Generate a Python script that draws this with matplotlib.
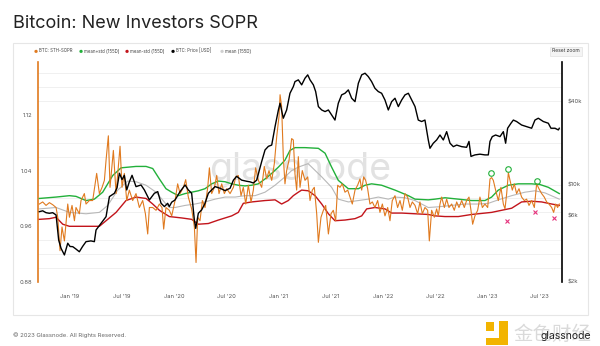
import matplotlib
matplotlib.use("Agg")
import matplotlib.pyplot as plt
from matplotlib.patches import Rectangle
from matplotlib.ticker import NullLocator, FixedLocator

plt.rcParams['font.family'] = ['Inter', 'DejaVu Sans']

# --- data (time as decimal year) ---
sopr_t = [2018.706, 2018.738, 2018.770, 2018.802, 2018.834, 2018.866, 2018.882, 2018.904, 2018.923, 2018.946,
          2018.978, 2018.994, 2019.019, 2019.042, 2019.057, 2019.089, 2019.105, 2019.137, 2019.153, 2019.185,
          2019.217, 2019.255, 2019.281, 2019.307, 2019.329, 2019.345, 2019.367, 2019.383, 2019.415, 2019.441,
          2019.479, 2019.498, 2019.520, 2019.543, 2019.568, 2019.600, 2019.632, 2019.664, 2019.696, 2019.722,
          2019.744, 2019.760, 2019.792, 2019.824, 2019.856, 2019.881, 2019.897, 2019.919, 2019.951,
          2019.974, 2020.006, 2020.031, 2020.054, 2020.086, 2020.108, 2020.133, 2020.165, 2020.191, 2020.207,
          2020.223, 2020.245, 2020.268, 2020.293, 2020.319, 2020.335, 2020.357, 2020.383, 2020.405, 2020.427,
          2020.453, 2020.478, 2020.501, 2020.533, 2020.565, 2020.587, 2020.612, 2020.638, 2020.660, 2020.683,
          2020.708, 2020.734, 2020.756, 2020.778, 2020.804, 2020.836, 2020.861, 2020.884, 2020.906, 2020.932,
          2020.957, 2020.980, 2021.002, 2021.012, 2021.027, 2021.043, 2021.059, 2021.075, 2021.098, 2021.123,
          2021.139, 2021.155, 2021.171, 2021.187,
          2021.203, 2021.225, 2021.251, 2021.277, 2021.299, 2021.321, 2021.340, 2021.363, 2021.379, 2021.404,
          2021.427, 2021.449, 2021.475, 2021.500, 2021.522, 2021.545, 2021.564, 2021.586, 2021.608, 2021.634,
          2021.660, 2021.682, 2021.704, 2021.730, 2021.755, 2021.778, 2021.794, 2021.813, 2021.832, 2021.851,
          2021.873, 2021.896, 2021.921, 2021.947, 2021.969, 2021.992, 2022.017, 2022.043, 2022.065, 2022.087,
          2022.113, 2022.138, 2022.161, 2022.183, 2022.209, 2022.234, 2022.257, 2022.279, 2022.305, 2022.330,
          2022.352, 2022.375, 2022.400, 2022.426, 2022.442,
          2022.464, 2022.490, 2022.512, 2022.528, 2022.544, 2022.560, 2022.586, 2022.608, 2022.630, 2022.656,
          2022.681, 2022.704, 2022.726, 2022.752, 2022.777, 2022.799, 2022.822, 2022.841, 2022.857, 2022.879,
          2022.905, 2022.927, 2022.950, 2022.975, 2023.001, 2023.023, 2023.039, 2023.055, 2023.077, 2023.103,
          2023.128, 2023.151, 2023.167, 2023.183, 2023.199, 2023.215, 2023.237, 2023.256, 2023.278, 2023.301,
          2023.326, 2023.352, 2023.374, 2023.397, 2023.422, 2023.448, 2023.470, 2023.492, 2023.518, 2023.543,
          2023.566, 2023.588, 2023.614, 2023.633, 2023.652, 2023.671, 2023.687]
sopr = [0.992, 0.995, 0.990, 0.994, 0.991, 0.987, 0.973, 0.925, 0.959, 0.939,
        0.992, 0.973, 0.990, 0.968, 0.987, 0.978, 0.997, 1.007, 0.992, 0.997,
        0.997, 1.036, 1.007, 1.016, 1.026, 1.055, 1.090, 1.016, 1.069, 1.007,
        1.075, 1.016, 1.036, 0.997, 1.012, 0.997, 1.007, 0.987, 0.997, 0.978,
        0.949, 0.987, 0.987, 0.983, 0.992, 0.987, 0.956, 0.987, 0.983,
        0.975, 0.997, 1.021, 1.007, 1.016, 1.027, 1.002, 0.985, 0.959, 0.908,
        0.973, 0.968, 0.997, 0.987, 1.016, 1.044, 1.007, 1.016, 1.033, 1.007,
        1.021, 1.007, 1.014, 1.007, 1.016, 1.031, 1.033, 1.004, 1.016, 0.992,
        1.019, 0.995, 1.012, 1.044, 1.026, 1.016, 1.046, 1.028, 1.040, 1.026,
        1.050, 1.089, 1.118, 1.149, 1.132, 1.060, 1.021, 1.040, 1.055, 1.086,
        1.084, 1.035, 1.012, 1.060,
        1.016, 1.040, 1.026, 1.031, 0.997, 1.012, 1.016, 0.978, 0.937, 0.973,
        0.983, 0.990, 0.949, 0.978, 0.983, 0.968, 1.019, 1.016, 1.021, 1.009,
        1.012, 1.002, 0.992, 1.012, 1.019, 1.028, 1.012, 1.031, 1.026, 1.014,
        0.992, 0.995, 0.987, 0.997, 0.980, 0.992, 0.975, 0.987, 0.968, 0.997,
        1.004, 0.987, 0.997, 0.983, 1.007, 1.002, 0.987, 0.995, 0.990, 0.978,
        0.995, 0.978, 0.987, 0.983, 0.939,
        0.983, 0.973, 0.985, 0.975, 0.992, 1.002, 0.987, 0.999, 0.987, 0.992,
        0.983, 0.995, 0.987, 0.997, 0.987, 0.997, 1.002, 0.983, 0.963, 0.975,
        0.983, 1.002, 0.987, 0.992, 0.987, 1.028, 1.030, 1.026, 1.012, 0.997,
        1.016, 0.992, 0.985, 1.007, 1.037, 1.026, 1.012, 1.021, 1.007, 1.014,
        1.002, 0.997, 0.999, 0.990, 0.997, 0.987, 1.021, 1.014, 1.007, 1.002,
        0.995, 0.992, 0.987, 0.980, 0.992, 0.987, 0.992]

upper_t = [2018.706, 2018.866, 2018.994, 2019.057, 2019.153, 2019.233, 2019.313, 2019.409, 2019.489, 2019.632,
           2019.728, 2019.792, 2019.856, 2019.919, 2019.974, 2020.038, 2020.102, 2020.165, 2020.229, 2020.293,
           2020.357, 2020.421, 2020.485, 2020.549, 2020.612, 2020.676, 2020.740, 2020.804, 2020.868, 2020.932,
           2020.996, 2021.059, 2021.107, 2021.155, 2021.251, 2021.379, 2021.443, 2021.506, 2021.570, 2021.666,
           2021.762, 2021.826, 2021.889, 2021.985, 2022.113, 2022.241, 2022.305, 2022.432, 2022.496, 2022.592,
           2022.720, 2022.847, 2022.975, 2023.039, 2023.103, 2023.199, 2023.294, 2023.422, 2023.502, 2023.582,
           2023.687]
upper = [1.000, 1.002, 1.004, 1.003, 0.997, 0.999, 1.009, 1.033, 1.044, 1.046,
         1.046, 1.043, 1.028, 1.014, 1.009, 1.004, 1.007, 1.009, 1.011, 1.014,
         1.021, 1.025, 1.024, 1.021, 1.019, 1.018, 1.019, 1.021, 1.028, 1.036,
         1.045, 1.055, 1.069, 1.073, 1.073, 1.072, 1.065, 1.045, 1.026, 1.014,
         1.014, 1.019, 1.021, 1.019, 1.012, 1.004, 0.999, 0.998, 0.999, 1.001,
         0.999, 0.997, 0.997, 1.002, 1.012, 1.019, 1.021, 1.021, 1.020, 1.016,
         1.007]

mean_t = [2018.706, 2018.866, 2018.994, 2019.153, 2019.281, 2019.361, 2019.457, 2019.552, 2019.632, 2019.728,
          2019.824, 2019.919, 2019.951, 2020.006, 2020.102, 2020.197, 2020.293, 2020.389, 2020.485, 2020.581,
          2020.676, 2020.772, 2020.868, 2020.964, 2021.059, 2021.123, 2021.187, 2021.281, 2021.411, 2021.506,
          2021.570, 2021.666, 2021.762, 2021.857, 2021.953, 2022.049, 2022.113, 2022.209, 2022.305, 2022.432,
          2022.528, 2022.656, 2022.784, 2022.911, 2023.007, 2023.103, 2023.231, 2023.358, 2023.454, 2023.550,
          2023.687]
mean = [0.985, 0.987, 0.980, 0.978, 0.980, 0.990, 1.012, 1.025, 1.024, 1.019,
        1.009, 0.992, 0.987, 0.987, 0.990, 0.992, 0.995, 0.999, 1.002, 1.002,
        1.004, 1.004, 1.009, 1.019, 1.031, 1.040, 1.045, 1.050, 1.031, 1.016,
        0.999, 0.995, 0.997, 0.999, 1.002, 0.999, 1.002, 1.001, 0.997, 0.987,
        0.988, 0.990, 0.992, 0.992, 0.993, 0.998, 1.004, 1.009, 1.011, 1.008,
        0.999]

lower_t = [2018.706, 2018.802, 2018.866, 2018.930, 2018.994, 2019.153, 2019.281, 2019.345, 2019.441, 2019.536,
           2019.632, 2019.728, 2019.792, 2019.856, 2019.951, 2020.070, 2020.165, 2020.229, 2020.325, 2020.421,
           2020.549, 2020.612, 2020.660, 2020.740, 2020.868, 2020.964, 2021.027, 2021.091, 2021.139, 2021.187,
           2021.219, 2021.283, 2021.347, 2021.411, 2021.475, 2021.538, 2021.634, 2021.730, 2021.794, 2021.842,
           2021.921, 2022.017, 2022.081, 2022.177, 2022.305, 2022.432, 2022.496, 2022.592, 2022.720, 2022.847,
           2022.975, 2023.039, 2023.135, 2023.231, 2023.326, 2023.422, 2023.518, 2023.614, 2023.687]
lower = [0.970, 0.971, 0.973, 0.963, 0.960, 0.960, 0.960, 0.968, 0.980, 0.997,
         1.002, 1.000, 0.992, 0.983, 0.974, 0.972, 0.970, 0.963, 0.964, 0.969,
         0.975, 0.980, 0.993, 0.995, 0.997, 0.998, 0.992, 0.997, 1.004, 1.009,
         1.012, 1.011, 1.004, 0.992, 0.978, 0.968, 0.969, 0.971, 0.975, 0.985,
         0.987, 0.985, 0.979, 0.979, 0.978, 0.977, 0.975, 0.974, 0.974, 0.977,
         0.979, 0.980, 0.983, 0.986, 0.995, 0.996, 0.995, 0.992, 0.990]

price_t = [2018.706, 2018.738, 2018.770, 2018.802, 2018.834, 2018.866, 2018.891, 2018.914, 2018.946, 2018.978,
           2019.000, 2019.026, 2019.057, 2019.089, 2019.120, 2019.153, 2019.200, 2019.233, 2019.249, 2019.297,
           2019.345, 2019.377, 2019.425, 2019.450, 2019.473, 2019.498, 2019.520, 2019.543, 2019.568, 2019.594,
           2019.632, 2019.680, 2019.712, 2019.760, 2019.808, 2019.840, 2019.872, 2019.904, 2019.935, 2019.951,
           2019.974, 2020.006, 2020.054, 2020.102, 2020.133, 2020.165, 2020.191, 2020.204, 2020.229, 2020.261,
           2020.293, 2020.325, 2020.357, 2020.389, 2020.437, 2020.485, 2020.533, 2020.565, 2020.596, 2020.644,
           2020.692, 2020.724, 2020.756, 2020.788, 2020.836, 2020.868, 2020.900, 2020.932, 2020.964, 2020.996,
           2021.012, 2021.043, 2021.075, 2021.107, 2021.139, 2021.155, 2021.187, 2021.219, 2021.251, 2021.277,
           2021.299, 2021.331, 2021.353, 2021.379, 2021.411, 2021.443, 2021.475, 2021.506, 2021.538, 2021.570,
           2021.602, 2021.634, 2021.666, 2021.698, 2021.730, 2021.762, 2021.794, 2021.826, 2021.857, 2021.889,
           2021.921, 2021.953, 2021.985, 2022.017, 2022.049, 2022.081, 2022.113, 2022.145, 2022.177, 2022.209,
           2022.241, 2022.273, 2022.305, 2022.336, 2022.368, 2022.400, 2022.432, 2022.448, 2022.458, 2022.480,
           2022.512, 2022.544, 2022.576, 2022.608, 2022.640, 2022.672, 2022.704, 2022.752, 2022.799, 2022.822,
           2022.841, 2022.879, 2022.927, 2022.975, 2023.007, 2023.023, 2023.045, 2023.077, 2023.119, 2023.151,
           2023.173, 2023.192, 2023.224, 2023.247, 2023.278, 2023.326, 2023.374, 2023.422, 2023.454, 2023.486,
           2023.534, 2023.582, 2023.607, 2023.646, 2023.678, 2023.687]
price = [6410, 6500, 6300, 6240, 6300, 6070, 4010, 3490, 3130, 3800,
         3600, 3590, 3450, 3300, 3600, 3900, 3950, 3900, 4730, 5290,
         5900, 8220, 8690, 9500, 12100, 10900, 11700, 9180, 10500, 11700,
         9700, 9970, 9180, 7780, 8690, 8930, 7360, 6970, 7360, 6970,
         7500, 7780, 8930, 9970, 9180, 8690, 5580, 4860, 6240, 6600,
         7360, 8690, 9180, 9700, 9440, 9080, 9440, 10800, 11500, 10800,
         10600, 10500, 10300, 10800, 14700, 17800, 18900, 19300, 26200, 34500,
         38600, 30100, 34500, 45500, 50800, 55200, 56800, 52300, 58400, 61700,
         56800, 52300, 46800, 36500, 34500, 33600, 34500, 31800, 29200, 38600,
         44300, 45500, 48100, 41900, 39600, 53700, 61700, 63400, 60000, 55200,
         49400, 46800, 45500, 40700, 34500, 39600, 41900, 36500, 40700, 44300,
         45500, 40700, 36500, 29200, 28500, 29200, 21000, 18300, 18800, 19900,
         21000, 22800, 21000, 24100, 19900, 18800, 19300, 18800, 18600, 20500,
         16000, 16400, 16600, 16400, 16400, 20500, 22200, 22800, 22200, 24100,
         19900, 25500, 27700, 29200, 28500, 26900, 26200, 25500, 29200, 30100,
         28500, 27700, 25500, 25500, 24800, 25500]

peak_t = [2023.030, 2023.198, 2023.473]
peak_v = [1.037, 1.043, 1.025]
dip_t = [2023.190, 2023.450, 2023.640]
dip_v = [0.968, 0.980, 0.972]

xtick_pos = [2019.0, 2019.5, 2020.0, 2020.5, 2021.0, 2021.5, 2022.0, 2022.5, 2023.0, 2023.5]
xtick_labels = ["Jan '19", "Jul '19", "Jan '20", "Jul '20", "Jan '21", "Jul '21",
                "Jan '22", "Jul '22", "Jan '23", "Jul '23"]
left_ticks = [0.88, 0.96, 1.04, 1.12]
right_ticks = [2000, 6000, 10000, 40000]
right_labels = ["$2k", "$6k", "$10k", "$40k"]

legend_labels = ["BTC: STH-SOPR", "mean+std (155D)", "mean-std (155D)", "BTC: Price [USD]", "mean (155D)"]

ORANGE = "#e07a1f"
GREEN = "#22b03a"
RED = "#c2141b"
GRAY = "#b8b8b8"
legend_colors = [ORANGE, GREEN, RED, "black", "#cfcfcf"]


def fx(px):
    return px / 600


def fy(py):
    return 1 - py / 346


fig = plt.figure(figsize=(6, 3.46), dpi=100)
fig.patch.set_facecolor("white")

# outer card frame
fig.patches.append(Rectangle((fx(13), fy(315)), fx(588) - fx(13), fy(43) - fy(315),
                             transform=fig.transFigure, fill=False, ec="#e6e6e6", lw=0.8))

fig.text(fx(13), fy(23), "Bitcoin: New Investors SOPR", fontsize=13, color="#222222",
         ha="left", va="center")

# legend row
leg_x = [36, 81, 127, 173, 222]
for x, lab, c in zip(leg_x, legend_labels, legend_colors):
    fig.text(fx(x), fy(51), "\u25cf", color=c, fontsize=3.2, ha="center", va="center")
    fig.text(fx(x + 3), fy(51), lab, color="#444444", fontsize=3.1, ha="left", va="center")

fig.text(fx(566), fy(51), "Reset zoom", fontsize=3.6, color="#333333", ha="center", va="center",
         bbox=dict(boxstyle="square,pad=0.4", fc="#f4f4f4", ec="#e2e2e2", lw=0.5))

ax = fig.add_axes([fx(38), fy(282), fx(562) - fx(38), fy(62) - fy(282)])
ax2 = ax.twinx()

ax.set_xlim(2018.693, 2023.713)
ax.set_ylim(0.88, 1.196)
ax.yaxis.set_major_locator(FixedLocator(left_ticks))
ax.set_yticklabels([f"{v:.2f}" for v in left_ticks])
ax.yaxis.set_minor_locator(FixedLocator([0.88 + 0.02 * i for i in range(16)]))
ax.grid(which="minor", axis="y", color="#eeeeee", lw=0.6)
ax.set_axisbelow(True)
ax.set_xticks(xtick_pos)
ax.set_xticklabels(xtick_labels)

for s in ["top", "right", "bottom"]:
    ax.spines[s].set_visible(False)
ax.spines["left"].set_color(ORANGE)
ax.spines["left"].set_linewidth(1.2)
ax.tick_params(axis="both", which="both", length=0, labelsize=4.2, labelcolor="#555555")
ax.tick_params(axis="x", pad=9)
ax.tick_params(axis="y", pad=4)

ax.text(0.5, 0.51, "glassnode", transform=ax.transAxes, fontsize=27, color="#e2e2e2",
        ha="center", va="center", zorder=0)

ax.plot(mean_t, mean, color=GRAY, lw=0.8, zorder=2)
ax.plot(lower_t, lower, color=RED, lw=1.0, zorder=3)
ax.plot(sopr_t, sopr, color=ORANGE, lw=0.8, zorder=4)
ax.plot(upper_t, upper, color=GREEN, lw=1.0, zorder=3)
ax.plot(peak_t, peak_v, "o", mfc="none", mec=GREEN, ms=4, mew=0.8, zorder=5)
ax.plot(dip_t, dip_v, "x", color="#e5327c", ms=3.5, mew=0.8, zorder=5)

ax2.plot(price_t, price, color="black", lw=1.0)
ax2.set_yscale("log")
ax2.set_ylim(2000, 76350)
ax2.yaxis.set_major_locator(FixedLocator(right_ticks))
ax2.yaxis.set_minor_locator(NullLocator())
ax2.set_yticklabels(right_labels)
for s in ["top", "left", "bottom"]:
    ax2.spines[s].set_visible(False)
ax2.spines["right"].set_color("black")
ax2.spines["right"].set_linewidth(1.2)
ax2.tick_params(axis="y", length=0, labelsize=4.2, labelcolor="#555555", pad=4)

# footer
fig.text(fx(13), fy(335), "\u00a9 2023 Glassnode. All Rights Reserved.", fontsize=4.3,
         color="#666666", ha="left", va="center")

# bottom-right watermark
logo_c = "#f2b400"
fig.patches.append(Rectangle((fx(486), fy(331)), fx(494) - fx(486), fy(322) - fy(331),
                             transform=fig.transFigure, fc=logo_c, ec="none"))
fig.patches.append(Rectangle((fx(499), fy(345)), fx(508) - fx(499), fy(321) - fy(345),
                             transform=fig.transFigure, fc=logo_c, ec="none"))
fig.patches.append(Rectangle((fx(486), fy(345)), fx(508) - fx(486), fy(338) - fy(345),
                             transform=fig.transFigure, fc=logo_c, ec="none"))
fig.text(fx(552), fy(334), "金色财经", family=["Noto Sans CJK SC", "DejaVu Sans"], fontsize=14,
         color="#dadada", ha="center", va="center")
fig.text(fx(566), fy(336), "glassnode", fontsize=7.5, color="#222222", ha="center", va="center")

fig.savefig("out.png", dpi=100, facecolor="white")
